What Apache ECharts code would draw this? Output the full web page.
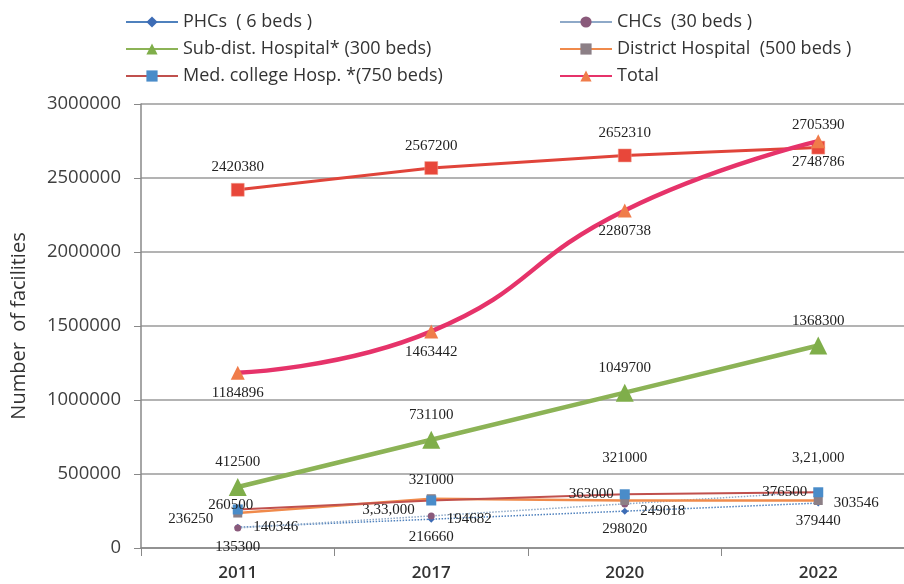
<!DOCTYPE html>
<html>
<head>
<meta charset="utf-8">
<script src="https://cdn.jsdelivr.net/npm/echarts@6/dist/echarts.min.js"></script>
<style>
  html, body { margin: 0; padding: 0; background: #fff; }
  #main { width: 904px; height: 584px; }
</style>
</head>
<body>
<div id="main"></div>
<script>
// data
var years = ['2011', '2017', '2020', '2022'];
var phc = [140346, 194682, 249018, 303546];
var chc = [135300, 216660, 298020, 379440];
var subDist = [412500, 731100, 1049700, 1368300];
var district = [236250, 333000, 321000, 321000];
var districtText = ['236250', '3,33,000', '321000', '3,21,000'];
var medCollege = [260500, 321000, 363000, 376500];
var total = [1184896, 1463442, 2280738, 2748786];
var upper = [2420380, 2567200, 2652310, 2705390];

var chart = echarts.init(document.getElementById('main'));

var lblFont = {
  fontFamily: '"Liberation Serif", serif',
  fontSize: 15,
  color: '#222'
};

// build data items with per-point label placement
function pts(vals, places, texts) {
  return vals.map(function (v, i) {
    var p = places[i];
    return {
      value: v,
      label: Object.assign({
        show: true,
        position: p[0],
        distance: p[1],
        offset: p[2] || [0, 0],
        formatter: texts ? texts[i] : String(v)
      }, lblFont)
    };
  });
}

var legendText = { fontFamily: '"Open Sans"', fontSize: 18, color: '#333', lineHeight: 20 };

var option = {
  backgroundColor: '#fff',
  animation: false,
  legend: [{
    data: ['PHCs  ( 6 beds )', 'Sub-dist. Hospital* (300 beds)', 'Med. college Hosp. *(750 beds)'],
    orient: 'vertical',
    left: 125,
    top: 12,
    padding: 0,
    itemWidth: 52,
    itemHeight: 14,
    itemGap: 7,
    lineStyle: { type: 'solid' },
    textStyle: legendText
  }, {
    data: ['CHCs  (30 beds )', 'District Hospital  (500 beds )', 'Total'],
    orient: 'vertical',
    left: 559,
    top: 12,
    padding: 0,
    itemWidth: 52,
    itemHeight: 14,
    itemGap: 7,
    lineStyle: { type: 'solid' },
    textStyle: legendText
  }],
  grid: {
    left: 141,
    top: 104,
    bottom: 36,
    width: 774,
    containLabel: false,
    outerBoundsMode: 'none'
  },
  xAxis: {
    type: 'category',
    data: years,
    boundaryGap: true,
    axisLine: { lineStyle: { color: '#888', width: 1.5 } },
    axisTick: { show: true, length: 8, interval: 0, lineStyle: { color: '#888' } },
    axisLabel: {
      margin: 17,
      fontFamily: '"Open Sans"',
      fontSize: 17,
      fontWeight: 600,
      color: '#333'
    }
  },
  yAxis: {
    type: 'value',
    min: 0,
    max: 3000000,
    interval: 500000,
    name: 'Number  of facilities',
    nameLocation: 'middle',
    nameRotate: 90,
    nameGap: 112,
    nameTextStyle: { fontFamily: '"Open Sans"', fontSize: 20, color: '#333' },
    axisLine: { show: true, lineStyle: { color: '#888', width: 1.5 } },
    axisTick: { show: true, length: 7, lineStyle: { color: '#888' } },
    axisLabel: {
      margin: 20,
      fontFamily: '"Open Sans"',
      fontSize: 18.5,
      color: '#404040',
      formatter: function (v) { return String(v); }
    },
    splitLine: { lineStyle: { color: '#9a9a9a', width: 1.5 } }
  },
  series: [{
    name: 'Beds',
    type: 'line',
    data: pts(upper, [['top', 8], ['top', 8], ['top', 8], ['top', 8]]),
    symbol: 'rect',
    symbolSize: 13,
    lineStyle: { color: '#e0443a', width: 3 },
    itemStyle: { color: '#e8473a', borderColor: '#f0a090', borderWidth: 0.5 },
    z: 3
  }, {
    name: 'PHCs  ( 6 beds )',
    type: 'line',
    data: pts(phc, [['right', 12], ['right', 12], ['right', 12], ['right', 12]]),
    symbol: 'diamond',
    symbolSize: 7,
    lineStyle: { color: '#4f81bd', width: 1.5, type: 'dotted' },
    itemStyle: { color: '#3d6cb5' },
    z: 2
  }, {
    name: 'CHCs  (30 beds )',
    type: 'line',
    data: pts(chc, [['bottom', 8], ['bottom', 10], ['bottom', 14], ['bottom', 18]]),
    symbol: 'circle',
    symbolSize: 7,
    lineStyle: { color: '#8ea9c8', width: 1.5, type: 'dotted' },
    itemStyle: { color: '#8a5a7b' },
    z: 2
  }, {
    name: 'Sub-dist. Hospital* (300 beds)',
    type: 'line',
    data: pts(subDist, [['top', 8], ['top', 8], ['top', 8], ['top', 8]]),
    symbol: 'triangle',
    symbolSize: 18,
    lineStyle: { color: '#8cb356', width: 4.5 },
    itemStyle: { color: '#7fae4a' },
    z: 3
  }, {
    name: 'District Hospital  (500 beds )',
    type: 'line',
    data: pts(district, [['left', 20, [0, 6]], ['left', 12, [0, 11]], ['top', 30], ['top', 30]], districtText),
    symbol: 'rect',
    symbolSize: 9,
    lineStyle: { color: '#f08a4b', width: 2.5 },
    itemStyle: { color: '#8c7f86' },
    z: 2
  }, {
    name: 'Med. college Hosp. *(750 beds)',
    type: 'line',
    data: pts(medCollege, [['top', -8, [-7, 0]], ['top', 8], ['left', 6], ['left', 6]]),
    symbol: 'rect',
    symbolSize: 10,
    lineStyle: { color: '#c0504d', width: 2 },
    itemStyle: { color: '#4a8cc9' },
    z: 3
  }, {
    name: 'Total',
    type: 'line',
    smooth: true,
    data: pts(total, [['bottom', 6], ['bottom', 6], ['bottom', 6], ['bottom', 6]]),
    symbol: 'triangle',
    symbolSize: 14,
    lineStyle: { color: '#e6336a', width: 4.5 },
    itemStyle: { color: '#f07c4a' },
    z: 4
  }]
};

chart.setOption(option);
</script>
</body>
</html>
